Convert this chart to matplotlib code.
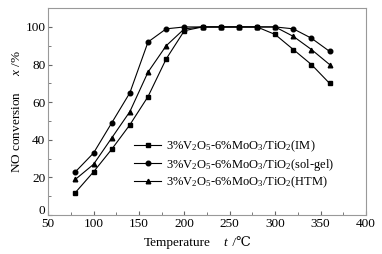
import matplotlib
matplotlib.use("Agg")
import matplotlib.pyplot as plt
from matplotlib.ticker import MultipleLocator, FuncFormatter

plt.rcParams["font.family"] = ["Liberation Serif", "DejaVu Serif"]
plt.rcParams["mathtext.fontset"] = "custom"
plt.rcParams["mathtext.rm"] = "Liberation Serif"
plt.rcParams["mathtext.it"] = "Liberation Serif:italic"

temps = [80, 100, 120, 140, 160, 180, 200, 220, 240, 260, 280, 300, 320, 340, 360]
conv_im = [12, 23, 35, 48, 63, 83, 98, 100, 100, 100, 100, 96, 88, 80, 70]
conv_solgel = [23, 33, 49, 65, 92, 99, 100, 100, 100, 100, 100, 100, 99, 94, 87]
conv_htm = [19, 27, 41, 55, 76, 90, 99, 100, 100, 100, 100, 100, 95, 88, 80]
labels = [
    r"3%V$_2$O$_5$-6%MoO$_3$/TiO$_2$(IM)",
    r"3%V$_2$O$_5$-6%MoO$_3$/TiO$_2$(sol-gel)",
    r"3%V$_2$O$_5$-6%MoO$_3$/TiO$_2$(HTM)",
]

fig = plt.figure(figsize=(3.82, 2.54), dpi=100)
ax = fig.add_axes([0.126, 0.153, 0.832, 0.815])

for y, m, lbl in [(conv_im, "s", labels[0]), (conv_solgel, "o", labels[1]), (conv_htm, "^", labels[2])]:
    ax.plot(temps, y, color="black", lw=0.8, marker=m, ms=3.3, label=lbl)

ax.set_xlim(50, 400)
ax.set_ylim(0, 110)
ax.xaxis.set_major_locator(MultipleLocator(50))
ax.xaxis.set_minor_locator(MultipleLocator(25))
ax.yaxis.set_major_locator(MultipleLocator(20))
ax.yaxis.set_minor_locator(MultipleLocator(10))
# the y "0" is drawn by hand a bit higher so it clears the x "50", as in the original
ax.yaxis.set_major_formatter(FuncFormatter(lambda v, p: "" if v == 0 else f"{v:g}"))
ax.annotate("0", (0, 0), xycoords="axes fraction", xytext=(-2, 3), textcoords="offset points",
            ha="right", va="center", fontsize=9.5)
ax.tick_params(which="both", direction="in", color="#666", labelsize=9.5, pad=2)
ax.tick_params(which="major", length=3)
ax.tick_params(which="minor", length=2)
for s in ax.spines.values():
    s.set_color("#999")
    s.set_linewidth(0.8)

# x label in pieces: the italic t and the degree-Celsius sign need different fonts
fig.text(0.465, 0.02, "Temperature", fontsize=9.5, ha="center", va="bottom")
fig.text(0.585, 0.02, "t", fontsize=9.5, style="italic", ha="left", va="bottom")
fig.text(0.600, 0.02, " /\u2103", fontsize=9.5, ha="left", va="bottom")
ax.set_ylabel(r"NO conversion     $x$ /%", fontsize=9.5, labelpad=2)

ax.legend(loc="upper left", bbox_to_anchor=(0.25, 0.4), frameon=False, fontsize=9,
          handlelength=2.2, handletextpad=0.4, labelspacing=0.2, borderpad=0)

fig.savefig("out.png", dpi=100)
